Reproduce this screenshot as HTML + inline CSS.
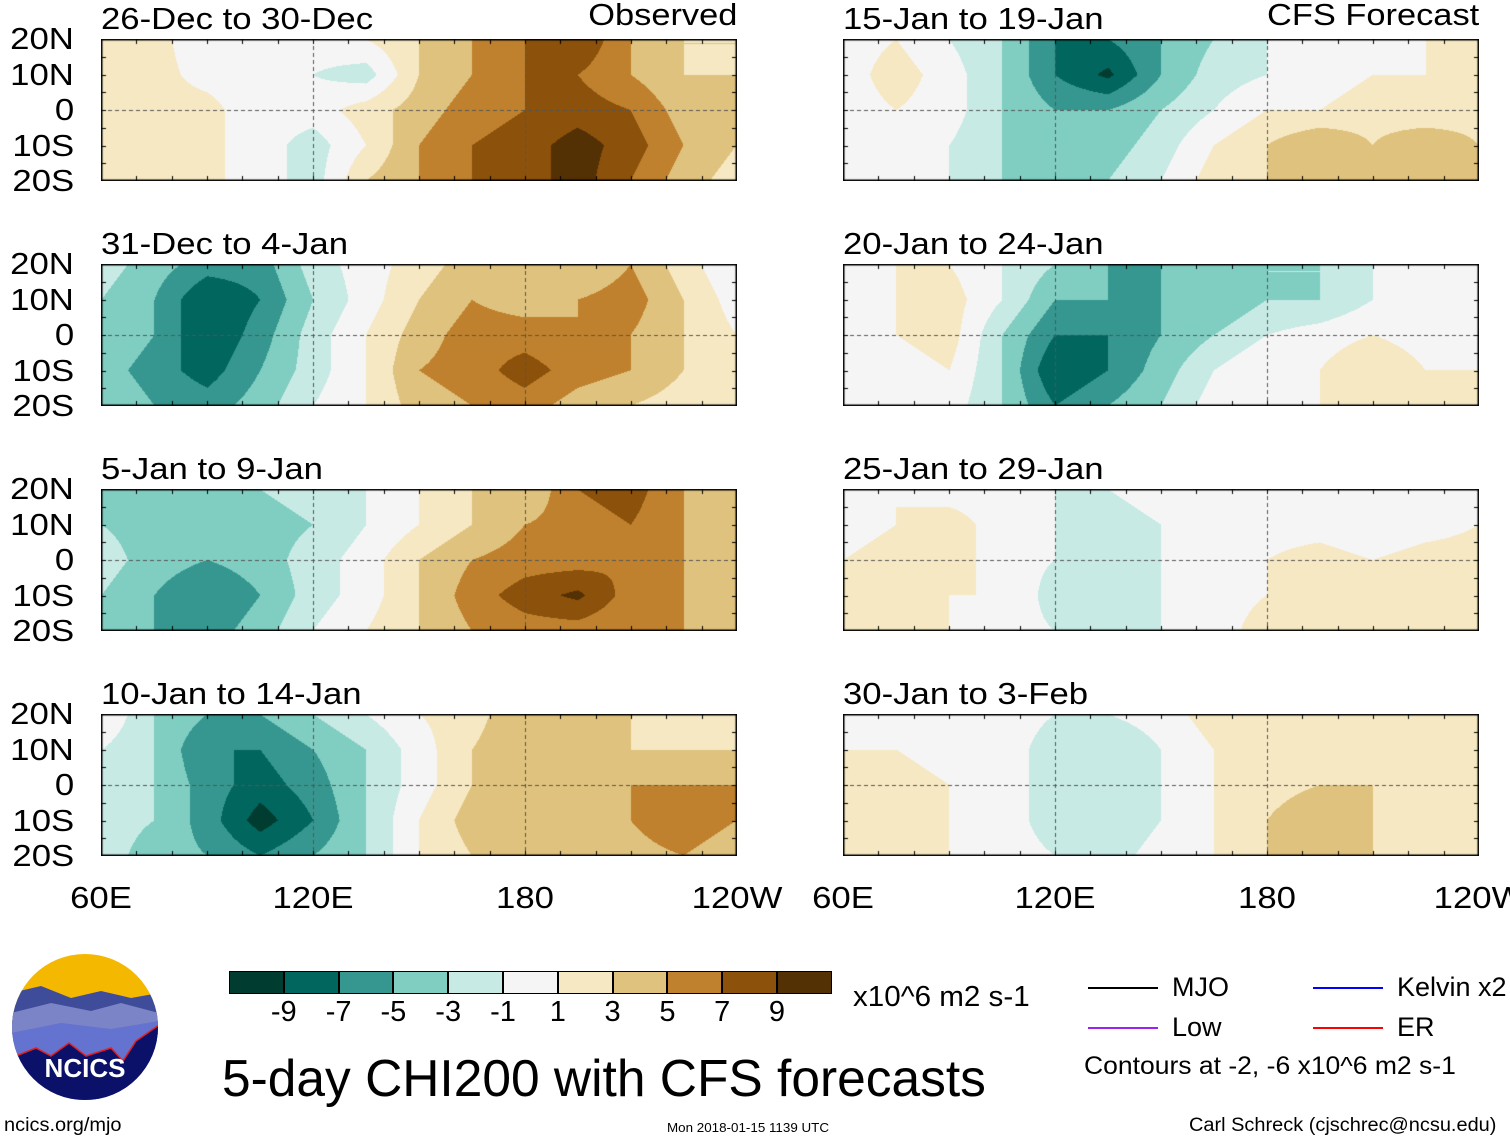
<!DOCTYPE html>
<html><head><meta charset="utf-8"><style>
body{margin:0;background:#fff;width:1510px;height:1142px;overflow:hidden;position:relative;font-family:"Liberation Sans",sans-serif;}
.t{position:absolute;white-space:nowrap;color:#000;}
canvas{position:absolute;}
</style></head><body>
<div id="root"></div>
<script>
const levels=[-9,-7,-5,-3,-1,1,3,5,7,9];
const colors=["#003c30","#01665e","#35978f","#80cdc1","#c7eae5","#f5f5f5","#f6e8c3","#dfc27d","#bf812d","#8c510a","#543005"];
const lons=[60,75,90,105,120,135,150,165,180,195,210,225,240];
const lats=[20,10,0,-10,-20];
const titles=["26-Dec to 30-Dec","31-Dec to 4-Jan","5-Jan to 9-Jan","10-Jan to 14-Jan","15-Jan to 19-Jan","20-Jan to 24-Jan","25-Jan to 29-Jan","30-Jan to 3-Feb"];
const p1=[[1.5,1.5,0,-1,0,1,3,5,7,9,5,3,3],[1.5,1.5,0.5,0,-1,-2,3,5,7,7,5,3,3],[1.5,1.5,1.5,0,0,2,4,6,7,8,7,4,3],[1.5,2,1.5,0,-2,1,5,7,8,10,8,5,3],[1.5,2,1.5,0,-2,3,5,7,8,10,7,4,2]];
const p2=[[-2,-4,-6,-6,-2,0,2,4,3,3,5,2,-1],[-3,-5,-9,-7,-3,0,3,5,4,5,6,3,0],[-3,-5,-9,-6,-2,1,4,6,6,5,5,3,1],[-4,-6,-8,-5,-2,1,5,6,8,6,5,3,1],[-3,-5,-6,-4,-1,1,4,5,6,4,3,2,1]];
const p3=[[-3,-3,-5,-3,-2,-1,1,3,3,7,8,5,5],[-3,-4,-5,-4,-3,-1,1,3,5,6,7,5,5],[-2,-4,-5,-4,-2,0,3,5,6,6,7,5,5],[-3,-5,-7,-5,-2,0,3,6,8,9.5,6,5,5],[-3,-5,-6,-4,-1,1,3,5,6,6,5,5,5]];
const p4=[[1,-3,-5,-5,-3,-1,1,2,5,5,3,1,1],[-1,-3,-7,-7,-5,-3,0,3,5,5,3,3,3],[-1,-3,-6,-8,-6,-3,0,3,5,5,5,5,5],[-2,-3,-6,-10,-7,-3,1,4,5,5,5,7,5],[-2,-4,-5,-7,-5,-3,1,3,4,4,4,5,3]];
const p5=[[0,1,-1,-3,-7,-7,-5,-3,-1,0,1,1,2],[0,2,0,-3,-7,-9.5,-5,-2,-1,0,1,1,2],[0,1,0,-3,-5,-5,-3,-1,1,1,2,1,2],[0,1,-1,-3,-5,-4,-2,1,3,5,3,5,3],[0,1,-1,-3,-4,-3,-1,2,3,3,3,4,3]];
const p6=[[1,1,1,-1,-3,-5,-5,-3,-3,-3,-1,0,0],[1,1,2,-1,-5,-5,-5,-5,-3,-3,-1,0,0],[-1,1,2,-3,-7,-7,-5,-3,-1,0,1,0,1],[-1,0,1,-3,-9,-7,-4,-1,1,1,3,1,1],[0,0,0,-3,-7,-5,-3,0,1,1,2,3,2]];
const p7=[[0,1,0,0,-1,-1,0,0,0,0,-1,0,1],[0,1,2,0,-1,-2,-1,0,0,0,-1,0,1],[1,2,2,0,-1,-2,-1,0,1,2,1,2,2],[1,2,1,1,-2,-2,-1,0,1,3,3,3,2],[1,1,1,0,-1,-2,-1,0,2,3,3,3,2]];
const p8=[[1,1,0,0,-1,-1,0,2,2,1,1,1,1],[1,1,0,0,-2,-3,-1,1,2,2,2,2,1],[1,2,1,0,-2,-3,-1,1,2,3,3,2,2],[1,2,1,0,-2,-3,-1,1,3,5,3,3,2],[1,1,1,0,-1,-2,0,1,3,3,3,2,1]];
const panels=[p1,p2,p3,p4,p5,p6,p7,p8];
const W=636,H=142;
const colX=[101,843], rowY=[39,264,489,714];
const root=document.getElementById('root');
function hex(c){return [parseInt(c.slice(1,3),16),parseInt(c.slice(3,5),16),parseInt(c.slice(5,7),16)];}
const rgb=colors.map(hex);
function colIdx(v){let i=0;while(i<levels.length&&v>levels[i])i++;return i;}
function xs(lon){return (lon-60)/180*W;}
function ys(lat){return (20-lat)/40*H;}
function text(s,x,y,size,name,align,sx){
  sx=sx||1;
  const d=document.createElement('div');d.className='t';d.textContent=s;
  d.style.fontSize=size+'px';d.style.top=y+'px';
  if(align==='r'){d.style.right=(1510-x)+'px';d.style.transformOrigin='right';d.style.transform='scaleX('+sx+')';}
  else if(align==='c'){d.style.left=x+'px';d.style.transform='translateX(-50%) scaleX('+sx+')';}
  else {d.style.left=x+'px';d.style.transformOrigin='left';d.style.transform='scaleX('+sx+')';}
  
  
  root.appendChild(d);return d;
}
panels.forEach((grid,pi)=>{
  const c=Math.floor(pi/4), r=pi%4;
  const X=colX[c], Y=rowY[r];
  const cv=document.createElement('canvas');cv.width=W;cv.height=H;
  cv.style.left=X+'px';cv.style.top=Y+'px';
  
  
  root.appendChild(cv);
  const ctx=cv.getContext('2d');const img=ctx.createImageData(W,H);
  for(let py=0;py<H;py++){
    const gy=py/(H-1)*(lats.length-1);const j=Math.min(Math.floor(gy),lats.length-2);const fy=gy-j;
    for(let px=0;px<W;px++){
      const gx=px/(W-1)*(lons.length-1);const i=Math.min(Math.floor(gx),lons.length-2);const fx=gx-i;
      const v=(grid[j][i]*(1-fx)+grid[j][i+1]*fx)*(1-fy)+(grid[j+1][i]*(1-fx)+grid[j+1][i+1]*fx)*fy;
      const cc=rgb[colIdx(v)];const k=(py*W+px)*4;
      img.data[k]=cc[0];img.data[k+1]=cc[1];img.data[k+2]=cc[2];img.data[k+3]=255;
    }
  }
  ctx.putImageData(img,0,0);
  ctx.strokeStyle='#555';ctx.lineWidth=1;ctx.setLineDash([4,3]);
  ctx.beginPath();ctx.moveTo(0,ys(0)+0.5);ctx.lineTo(W,ys(0)+0.5);
  [120,180].forEach(l=>{ctx.moveTo(xs(l)+0.5,0);ctx.lineTo(xs(l)+0.5,H);});
  ctx.stroke();ctx.setLineDash([]);
  ctx.strokeStyle='#000';ctx.lineWidth=1;ctx.beginPath();
  for(let l=60;l<=240;l+=10){const x=Math.round(xs(l))+0.5;ctx.moveTo(x,0);ctx.lineTo(x,5);ctx.moveTo(x,H);ctx.lineTo(x,H-5);}
  for(let a=-20;a<=20;a+=5){const y=Math.round(ys(a))+0.5;ctx.moveTo(0,y);ctx.lineTo(5,y);ctx.moveTo(W,y);ctx.lineTo(W-5,y);}
  ctx.stroke();
  ctx.lineWidth=3;ctx.strokeRect(0,0,W,H);
  text(titles[pi],X,Y-38,31,'panel-title-'+(pi+1),'l',1.12);
  if(c===0){['20N','10N','0','10S','20S'].forEach((s,k)=>text(s,74,Y+k*35.5-18,31,'lat-label','r',1.12));}
});
text('Observed',737,-3,31,'observed-label','r',1.11);
text('CFS Forecast',1479,-3,31,'forecast-label','r',1.11);
[['60E',60],['120E',120],['180',180],['120W',240]].forEach(([s,l])=>{
  text(s,101+xs(l),880,31,'lon-label','c',1.12);text(s,843+xs(l),880,31,'lon-label','c',1.12);
});
for(let i=0;i<11;i++){
  const d=document.createElement('div');d.style.cssText=`position:absolute;left:${229+i*54.8}px;top:971px;width:54.8px;height:23px;background:${colors[i]};box-sizing:border-box;border:1.5px solid #000;`;
  
  
  root.appendChild(d);
}
levels.forEach((l,i)=>text(String(l),229+(i+1)*54.8,996,29,'colorbar-label','c'));
text('x10^6 m2 s-1',853,981,29,'colorbar-units','l',1.02);
text('5-day CHI200 with CFS forecasts',222,1049,52,'chart-title','l',0.99);
[['MJO','#000',1088,987],['Low','#a020f0',1088,1027],['Kelvin x2','#0000ff',1313,987],['ER','#ff0000',1313,1027]].forEach(([s,c,x,y])=>{
  const d=document.createElement('div');d.style.cssText=`position:absolute;left:${x}px;top:${y}px;width:70px;height:2px;background:${c}`;
  
  
  root.appendChild(d);
  text(s,x+84,y-15,27,'legend-entry');
});
text('Contours at -2, -6 x10^6 m2 s-1',1084,1052,25,'contour-note','l',1.06);
text('ncics.org/mjo',4,1115,19,'ncics-url','l',1.05);
text('Mon 2018-01-15 1139 UTC',667,1120,13,'timestamp','l',1.03);
text('Carl Schreck (cjschrec@ncsu.edu)',1189,1115,19,'author-credit','l',1.05);
</script>
<svg style="position:absolute;left:11px;top:953px" width="148" height="148">
<defs><clipPath id="cl"><circle cx="74" cy="74" r="73"/></clipPath></defs>
<g clip-path="url(#cl)">
<rect width="148" height="148" fill="#f5b800"/>
<path d="M0 40 L30 33 60 45 90 38 120 45 148 40 L148 148 0 148Z" fill="#3e4c9a"/>
<path d="M0 60 L40 50 80 58 110 50 148 60 L148 148 0 148Z" fill="#7a84c6"/>
<path d="M0 80 L50 70 100 76 148 68 L148 148 0 148Z" fill="#6472d0"/>
<path d="M0 105 L25 95 40 103 58 90 75 103 100 95 112 108 125 88 148 72 L148 148 0 148Z" fill="#0b1169" stroke="#e02020" stroke-width="1.5"/>
</g>
<text x="74" y="124" text-anchor="middle" font-family="Liberation Sans" font-weight="bold" font-size="26" fill="#fff">NCICS</text>
</svg>
</body></html>
